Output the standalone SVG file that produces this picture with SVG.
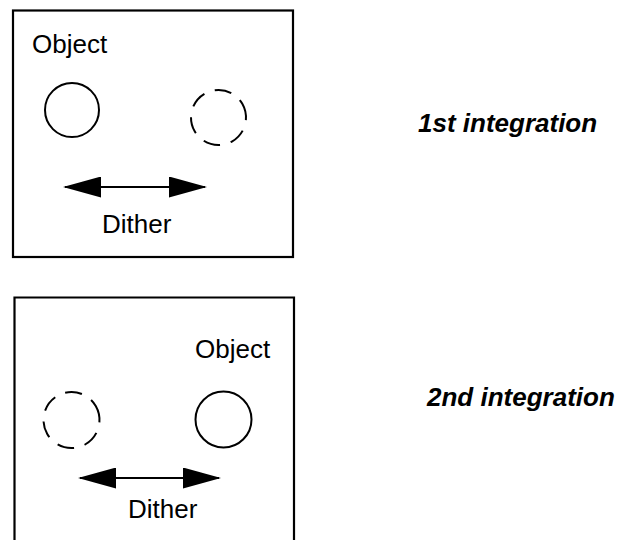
<svg xmlns="http://www.w3.org/2000/svg" width="621" height="540" viewBox="0 0 621 540">
  <style>
    .frame { fill: none; stroke: #000; stroke-width: 2.2; }
    .obj { fill: none; stroke: #000; stroke-width: 2; }
    .ghost { fill: none; stroke: #000; stroke-width: 2; stroke-dasharray: 17 11; }
    .dither { stroke: #000; stroke-width: 2; fill: none; }
    .lbl { font-family: "Liberation Sans", Arial, sans-serif; font-size: 26px; fill: #000; }
    .cap { font-family: "Liberation Sans", Arial, sans-serif; font-size: 26px; font-weight: bold; font-style: italic; fill: #000; }
  </style>
  <defs>
    <marker id="head" viewBox="0 0 38 21" markerWidth="38" markerHeight="21" refX="36" refY="10.5" markerUnits="userSpaceOnUse" orient="auto-start-reverse">
      <path d="M0,0 L38,10.5 L0,21 z" fill="#000"/>
    </marker>
  </defs>

  <g id="panel1">
    <rect class="frame" x="13" y="10.5" width="280" height="246.5"/>
    <text class="lbl" x="32" y="53">Object</text>
    <circle id="object1" class="obj" cx="72" cy="110" r="27"/>
    <circle id="ghost1" class="ghost" cx="218.5" cy="117.5" r="27.5" transform="rotate(-30 218.5 117.5)"/>
    <text class="lbl" x="102" y="233">Dither</text>
  </g>

  <g id="panel2">
    <path class="frame" d="M14.5,541 V297.5 H294 V541"/>
    <text class="lbl" x="195" y="358">Object</text>
    <circle id="ghost2" class="ghost" cx="71.5" cy="420" r="28" transform="rotate(-30 71.5 420)"/>
    <circle id="object2" class="obj" cx="223.5" cy="419.5" r="28"/>
    <text class="lbl" x="128" y="518">Dither</text>
  </g>

  <g id="connectors">
    <line class="dither" x1="65" y1="187" x2="205" y2="187" marker-start="url(#head)" marker-end="url(#head)"/>
    <line class="dither" x1="80" y1="478" x2="219" y2="478" marker-start="url(#head)" marker-end="url(#head)"/>
  </g>

  <g id="captions">
    <text class="cap" x="418" y="132">1st integration</text>
    <text class="cap" x="427" y="406">2nd integration</text>
  </g>
</svg>
